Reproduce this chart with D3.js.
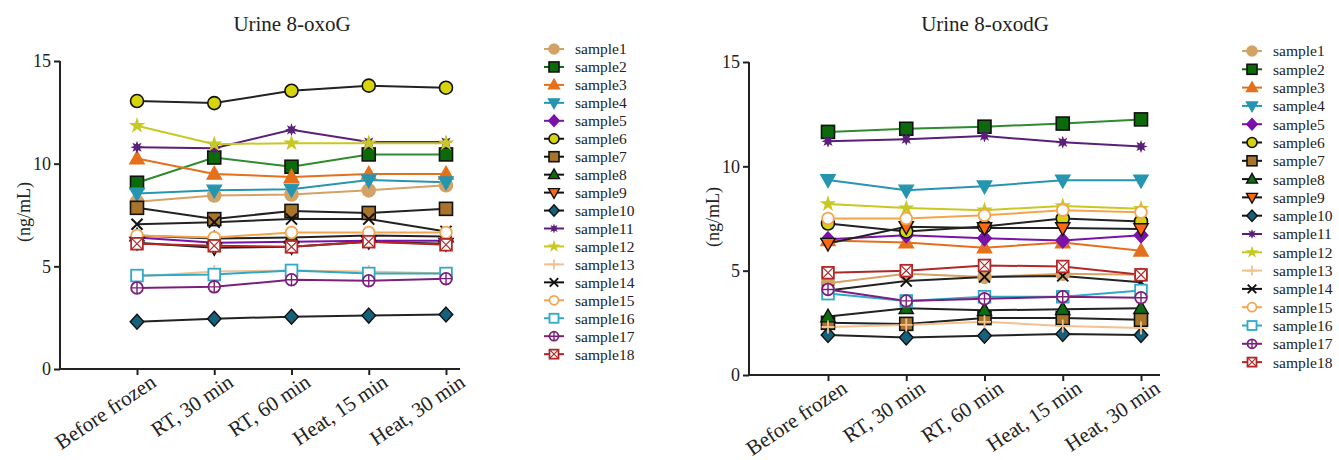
<!DOCTYPE html>
<html lang="en">
<head>
<meta charset="UTF-8">
<title>Urine 8-oxoG / 8-oxodG</title>
<script src="https://d3js.org/d3.v7.min.js"></script>
<style>
    body { margin: 0; background: #fff; }
    text { font-family: "Liberation Serif", "DejaVu Serif", serif; fill: #222; }
    .axis path, .axis line { stroke: #222; stroke-width: 2px; }
</style>
</head>
<body>
<svg width="1339" height="460"></svg>
<script>
    // ---- data ----
    const categories = ["Before frozen", "RT, 30 min", "RT, 60 min", "Heat, 15 min", "Heat, 30 min"];
    const sampleNames = ["sample1", "sample2", "sample3", "sample4", "sample5", "sample6",
        "sample7", "sample8", "sample9", "sample10", "sample11", "sample12",
        "sample13", "sample14", "sample15", "sample16", "sample17", "sample18"];
    const yTicks = [0, 5, 10, 15];

    // one row per sample, one value per category (ng/mL)
    const oxoG = [
        [8.15, 8.45, 8.5, 8.7, 8.95],
        [9.07, 10.3, 9.85, 10.45, 10.45],
        [10.25, 9.5, 9.35, 9.5, 9.5],
        [8.55, 8.7, 8.75, 9.2, 9.1],
        [6.4, 6.15, 6.2, 6.25, 6.25],
        [13.05, 12.95, 13.55, 13.8, 13.7],
        [7.85, 7.3, 7.7, 7.6, 7.8],
        [6.5, 6.35, 6.4, 6.5, 6.45],
        [6.15, 5.9, 5.95, 6.2, 6.1],
        [2.3, 2.45, 2.55, 2.6, 2.65],
        [10.8, 10.75, 11.65, 11.05, 11.05],
        [11.85, 10.95, 11.0, 11.0, 11.0],
        [4.5, 4.75, 4.8, 4.75, 4.65],
        [7.05, 7.15, 7.3, 7.3, 6.7],
        [6.5, 6.4, 6.65, 6.65, 6.65],
        [4.55, 4.6, 4.8, 4.65, 4.65],
        [3.95, 4.0, 4.35, 4.3, 4.4],
        [6.1, 6.0, 5.95, 6.2, 6.05]
    ];
    const oxodG = [
        [4.4, 4.85, 4.7, 4.85, 4.8],
        [11.65, 11.8, 11.9, 12.05, 12.25],
        [6.45, 6.35, 6.1, 6.35, 5.95],
        [9.35, 8.85, 9.05, 9.33, 9.33],
        [6.5, 6.7, 6.55, 6.45, 6.7],
        [7.26, 6.88, 7.12, 7.5, 7.36],
        [2.5, 2.45, 2.73, 2.73, 2.65],
        [2.8, 3.2, 3.1, 3.15, 3.2],
        [6.3, 7.1, 7.05, 7.05, 7.0],
        [1.92, 1.8, 1.88, 1.97, 1.92],
        [11.2, 11.3, 11.45, 11.15, 10.95],
        [8.2, 8.0, 7.9, 8.1, 7.97],
        [2.3, 2.4, 2.55, 2.35, 2.25],
        [4.05, 4.5, 4.7, 4.75, 4.45],
        [7.5, 7.5, 7.65, 7.9, 7.8],
        [3.9, 3.55, 3.75, 3.75, 4.05],
        [4.1, 3.55, 3.65, 3.75, 3.7],
        [4.9, 5.0, 5.25, 5.2, 4.8]
    ];

    // ---- styles per sample ----
    const markerShapes = ["circle", "square", "triUp", "triDown", "diamond", "circle",
        "square", "triUp", "triDown", "diamond", "asterisk", "star",
        "plus", "cross", "openCircle", "openSquare", "circlePlus", "squareX"];
    const markerColors = ["#D4A265", "#0B6B0B", "#E5701C", "#2595B0", "#7A12A8", "#D6D40A",
        "#A8742A", "#0E6B12", "#FF6A10", "#15607A", "#5A1F78", "#C8C825",
        "#F2C190", "#111111", "#F5A44E", "#2FA9C6", "#7C1F7C", "#B02828"];
    const lineColors = ["#D4A265", "#2E8B2E", "#E5701C", "#2595B0", "#7A12A8", "#222222",
        "#222222", "#222222", "#222222", "#222222", "#5A1F78", "#C8C825",
        "#F2C190", "#222222", "#F5A44E", "#2FA9C6", "#7C1F7C", "#B02828"];
    const blackOutline = [false, true, false, false, false, true,
        true, true, true, true, false, false,
        false, false, false, false, false, false];

    const panels = [
        { title: "Urine 8-oxoG", values: oxoG, axisX: [60, 460], catRange: [137, 446], yRange: [369, 61],
          titleX: 292, legendX: 554, legendY: 49, legendStep: 17.95, ylabelX: 24, ylabelY: 212 },
        { title: "Urine 8-oxodG", values: oxodG, axisX: [749, 1160], catRange: [828, 1141], yRange: [375, 62],
          titleX: 985, legendX: 1252, legendY: 51, legendStep: 18.3, ylabelX: 713, ylabelY: 217 }
    ];

    const svg = d3.select("svg");

    function circlePath(r) {
        return "M" + (-r) + ",0A" + r + "," + r + ",0,1,0," + r + ",0A" + r + "," + r + ",0,1,0," + (-r) + ",0Z";
    }

    // draws one marker into g at the origin, r = half size
    function drawMarker(g, i, r) {
        const shape = markerShapes[i];
        const col = markerColors[i];
        const stroke = blackOutline[i] ? "#111" : col;
        let p;
        if (shape === "circle") {
            g.append("path").attr("d", circlePath(r)).attr("fill", col).attr("stroke", stroke).attr("stroke-width", 1.6);
        } else if (shape === "square") {
            g.append("rect").attr("x", -r).attr("y", -r).attr("width", 2 * r).attr("height", 2 * r)
                .attr("fill", col).attr("stroke", stroke).attr("stroke-width", 1.6);
        } else if (shape === "triUp") {
            p = "M0," + (-r * 1.15) + "L" + (r * 1.1) + "," + (r * 0.8) + "L" + (-r * 1.1) + "," + (r * 0.8) + "Z";
            g.append("path").attr("d", p).attr("fill", col).attr("stroke", stroke).attr("stroke-width", 1.4);
        } else if (shape === "triDown") {
            p = "M0," + (r * 1.15) + "L" + (r * 1.1) + "," + (-r * 0.8) + "L" + (-r * 1.1) + "," + (-r * 0.8) + "Z";
            g.append("path").attr("d", p).attr("fill", col).attr("stroke", stroke).attr("stroke-width", 1.4);
        } else if (shape === "diamond") {
            p = "M0," + (-r * 1.15) + "L" + (r * 1.05) + ",0L0," + (r * 1.15) + "L" + (-r * 1.05) + ",0Z";
            g.append("path").attr("d", p).attr("fill", col).attr("stroke", stroke).attr("stroke-width", 1.4);
        } else if (shape === "star") {
            g.append("path").attr("d", d3.symbol(d3.symbolStar, r * r * 2.0)()).attr("fill", col);
        } else if (shape === "asterisk") {
            const pts = [];
            for (let k = 0; k < 16; k++) {
                const a = k * Math.PI / 8;
                const rr = k % 2 === 0 ? r * 1.0 : r * 0.5;
                pts.push([rr * Math.sin(a), -rr * Math.cos(a)]);
            }
            g.append("path").attr("d", "M" + pts.join("L") + "Z").attr("fill", col);
        } else if (shape === "plus") {
            g.append("path").attr("d", "M" + (-r) + ",0H" + r + "M0," + (-r) + "V" + r)
                .attr("stroke", col).attr("stroke-width", 1.8).attr("fill", "none");
        } else if (shape === "cross") {
            const q = r * 0.85;
            g.append("path").attr("d", "M" + (-q) + "," + (-q) + "L" + q + "," + q + "M" + q + "," + (-q) + "L" + (-q) + "," + q)
                .attr("stroke", col).attr("stroke-width", 2).attr("fill", "none");
        } else if (shape === "openCircle") {
            g.append("path").attr("d", circlePath(r * 0.9)).attr("fill", "#fff").attr("stroke", col).attr("stroke-width", 1.8);
        } else if (shape === "openSquare") {
            g.append("rect").attr("x", -r * 0.9).attr("y", -r * 0.9).attr("width", 1.8 * r).attr("height", 1.8 * r)
                .attr("fill", "#fff").attr("stroke", col).attr("stroke-width", 1.8);
        } else if (shape === "circlePlus") {
            g.append("path").attr("d", circlePath(r * 0.9)).attr("fill", "#fff").attr("stroke", col).attr("stroke-width", 1.8);
            g.append("path").attr("d", "M" + (-r * 0.9) + ",0H" + (r * 0.9) + "M0," + (-r * 0.9) + "V" + (r * 0.9))
                .attr("stroke", col).attr("stroke-width", 1.4);
        } else if (shape === "squareX") {
            const q = r * 0.9;
            g.append("rect").attr("x", -q).attr("y", -q).attr("width", 2 * q).attr("height", 2 * q)
                .attr("fill", "#fff").attr("stroke", col).attr("stroke-width", 1.8);
            g.append("path").attr("d", "M" + (-q) + "," + (-q) + "L" + q + "," + q + "M" + q + "," + (-q) + "L" + (-q) + "," + q)
                .attr("stroke", col).attr("stroke-width", 1.2);
        }
    }

    panels.forEach(function(pn) {
        const x = d3.scalePoint().domain(categories).range(pn.catRange);
        const y = d3.scaleLinear().domain([0, 15]).range(pn.yRange);
        const g = svg.append("g");

        // title
        g.append("text").attr("x", pn.titleX).attr("y", 31).attr("text-anchor", "middle")
            .style("font-size", "21px").text(pn.title);

        // y axis
        const yAxis = g.append("g").attr("class", "axis").attr("transform", "translate(" + pn.axisX[0] + ",0)")
            .call(d3.axisLeft(y).tickValues(yTicks).tickSize(6).tickSizeOuter(0).tickPadding(3));
        yAxis.selectAll("text").style("font-size", "18px").style("font-family", "Liberation Serif");
        yAxis.select(".domain").attr("d", "M0," + pn.yRange[1] + "V" + pn.yRange[0]);

        // x axis
        const xAxis = g.append("g").attr("class", "axis").attr("transform", "translate(0," + pn.yRange[0] + ")")
            .call(d3.axisBottom(x).tickSize(6).tickSizeOuter(0));
        xAxis.select(".domain").attr("d", "M" + pn.axisX[0] + ",0H" + pn.axisX[1]);
        xAxis.selectAll("text")
            .style("font-size", "21px").style("font-family", "Liberation Serif")
            .attr("text-anchor", "end")
            .attr("transform", "translate(9,0) rotate(-34)")
            .attr("dy", "0.7em").attr("y", 5);

        // y label
        g.append("text").attr("transform", "translate(" + pn.ylabelX + "," + pn.ylabelY + ") rotate(-90)")
            .attr("text-anchor", "middle").attr("dy", "0.35em").style("font-size", "18px").text("(ng/mL)");

        // lines then markers
        const line = d3.line().x(function(d, j) { return x(categories[j]); }).y(function(d) { return y(d); });
        pn.values.forEach(function(vals, i) {
            g.append("path").attr("d", line(vals)).attr("fill", "none")
                .attr("stroke", lineColors[i]).attr("stroke-width", 2);
        });
        pn.values.forEach(function(vals, i) {
            vals.forEach(function(v, j) {
                const m = g.append("g").attr("transform", "translate(" + x(categories[j]) + "," + y(v) + ")");
                drawMarker(m, i, 6.5);
            });
        });

        // legend
        sampleNames.forEach(function(name, i) {
            const ly = pn.legendY + i * pn.legendStep;
            const lg = g.append("g").attr("transform", "translate(" + pn.legendX + "," + ly + ")");
            lg.append("line").attr("x1", -10).attr("x2", 10).attr("stroke", lineColors[i] === "#222222" ? "#111" : markerColors[i])
                .attr("stroke-width", 2);
            drawMarker(lg, i, 5);
            lg.append("text").attr("x", 21).attr("dy", "0.35em").style("font-size", "15.5px").text(name);
        });
    });
</script>
</body>
</html>
